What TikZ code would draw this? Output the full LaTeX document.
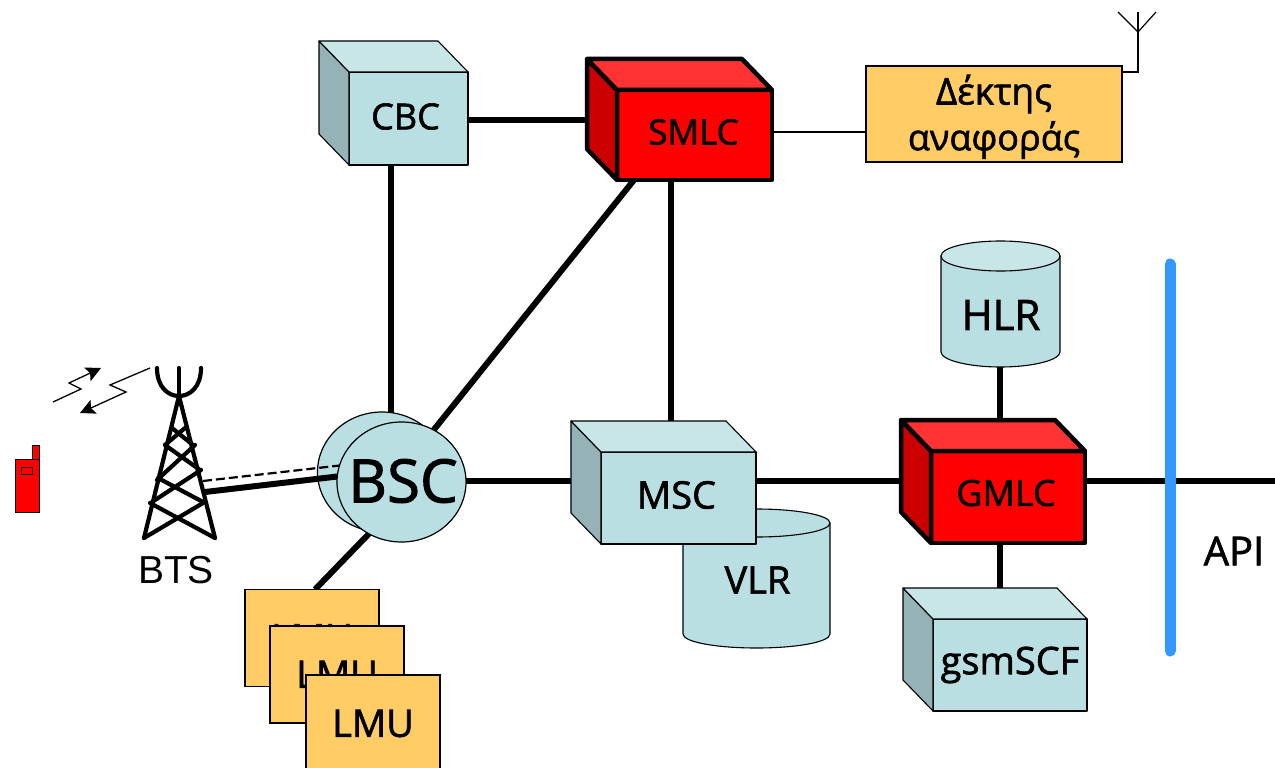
\documentclass[tikz,border=0pt]{standalone}
\usepackage{fontspec}
\setmainfont{Open Sans}[RawFeature={embolden=1.6}]
\newfontfamily\arialfont{Liberation Sans}
\usetikzlibrary{shapes.geometric,arrows.meta}
\pgfdeclarelayer{background}
\pgfsetlayers{background,main}
\definecolor{tealfront}{HTML}{B9DFE3}
\definecolor{tealtop}{HTML}{C8E5E8}
\definecolor{tealside}{HTML}{95B2B6}
\definecolor{redtop}{HTML}{FF3333}
\definecolor{redside}{HTML}{CC0000}
\definecolor{amber}{HTML}{FFCC66}
\definecolor{barblue}{HTML}{3399FF}
\newcommand{\fsz}[1]{\fontsize{#1}{#1}\selectfont}
\newcommand{\shifted}[3]{\raisebox{#2}[\height][\depth]{\makebox[0pt]{\hspace*{#1}#3}}}
\tikzset{
  x=1pt,y=-1pt,
  every node/.style={inner sep=0pt,outer sep=0pt,align=center},
  tealbox/.style={draw=black,line width=1.1pt,fill=tealfront,line join=round},
  redbox/.style={draw=black,line width=4.5pt,fill=red,line join=round},
  amberbox/.style={rectangle,draw=black,line width=1.2pt,fill=amber},
  thicklink/.style={draw=black,line width=6pt},
  thinlink/.style={draw=black,line width=1.8pt},
  towerline/.style={draw=black,line width=4.2pt,line cap=round,line join=round},
  bolt/.style={draw=black,line width=1.3pt,-{Stealth[length=15pt,width=15pt,inset=3pt]}},
}
\newcommand{\cubebox}[9]{%
  \node[#7,rectangle,minimum width=#4,minimum height=#5,font=\fsz{#6}] (#1) at (#2,#3) {#8};
  \begin{scope}[#7]
  \path[#7,fill=#9side] (#1.north west) -- ++(-30,-31) -- ([shift={(-30,-31)}]#1.south west) -- (#1.south west) -- cycle;
  \path[#7,fill=#9top] (#1.north west) -- ++(-30,-31) -- ([shift={(-30,-31)}]#1.north east) -- (#1.north east) -- cycle;
  \end{scope}
}
\begin{document}
\begin{tikzpicture}
\useasboundingbox (0,0) rectangle (1275,768);

\coordinate (rowtop) at (0,120);
\coordinate (rowrecv) at (0,132);
\coordinate (rowmid) at (0,481);
\coordinate (colcbc) at (391,0);
\coordinate (colmsc) at (671,0);
\coordinate (colgmlc) at (1000,0);
\coordinate (lineend) at (1275,481);
\coordinate (barbottom) at (1170,651);
\coordinate (bartop) at (1170,264);

% reference receiver
\node[amberbox,minimum width=256pt,minimum height=96pt] (recv) at (994,114) {};
\node[font=\fsz{37}] (recvtop) at (994,94) {Δέκτης};
\node[font=\fsz{36}] (recvbottom) at (994,140) {αναφοράς};
\coordinate (antfoot) at (1122,72);
\coordinate (antcorner) at (1138,72);
\coordinate (antfork) at (1138,32);
\coordinate (anttop) at (1138,12);
\draw[line width=1.2pt] (antfoot) -- (antcorner) -- (anttop);
\draw[line width=1.2pt] (1118,12) -- (antfork) -- (1156,12);

% cubes
\cubebox{cbc}{408.5}{118.5}{119}{93}{36}{tealbox}{\shifted{-6pt}{2pt}{CBC}}{teal}
\cubebox{smlc}{694.5}{135}{155}{90}{35}{redbox}{\shifted{-2pt}{3pt}{SMLC}}{red}

% VLR cylinder
\path[tealbox] (683,523) -- (683,634) .. controls (683,642) and (716,648) .. (756.5,648) .. controls (797,648) and (830,642) .. (830,634) -- (830,523) -- cycle;
\node[draw=black,line width=1.1pt,fill=tealfront,ellipse,minimum width=147pt,minimum height=28pt] (vlr) at (756.5,523) {};
\node[font=\fsz{38}] (vlrtext) at (757.5,580) {VLR};

\cubebox{msc}{678.5}{498}{155}{92}{38}{tealbox}{\shifted{-4pt}{3pt}{MSC}}{teal}
\cubebox{gmlc}{1008}{497}{154}{92}{36}{redbox}{\shifted{-4pt}{4pt}{GMLC}}{red}
\cubebox{scf}{1010}{665}{154}{92}{38}{tealbox}{\shifted{0pt}{0pt}{gsmSCF}}{teal}

% HLR cylinder
\path[tealbox] (941,256) -- (941,352) .. controls (941,360) and (968,367) .. (1000.5,367) .. controls (1033,367) and (1060,360) .. (1060,352) -- (1060,256) -- cycle;
\node[draw=black,line width=1.1pt,fill=tealtop,ellipse,minimum width=119pt,minimum height=30pt] (hlr) at (1000.5,256) {};
\node[font=\fsz{42}] (hlrtext) at (1001,315) {HLR};

% BSC
\node[ellipse,draw=black,line width=1.2pt,fill=tealfront,minimum width=129pt,minimum height=120pt] (bsc) at (401.5,482) {};
\node[font=\fsz{60}] (bsctext) at (403,481) {BSC};

% LMU stack
\node[amberbox,minimum width=134pt,minimum height=97pt,font=\fsz{38}] (lmua) at (312,638) {LMU};
\node[amberbox,minimum width=134pt,minimum height=97pt,font=\fsz{38}] (lmub) at (337,674.5) {LMU};
\node[amberbox,minimum width=134pt,minimum height=97pt,font=\fsz{38}] (lmuc) at (373,723.5) {LMU};

% API bar
\draw[line width=11pt,barblue,line cap=round] (bartop) -- (barbottom);
\node[font=\fsz{40}] (api) at (1234,551) {API};

% BTS label
\node[font=\arialfont\fsz{39}] (bts) at (176,570) {BTS};

% tower
\draw[towerline] (179,368) -- (179,396);
\draw[towerline] (157,368) .. controls (157,387) and (168,396) .. (179,396) .. controls (190,396) and (201,387) .. (201,368);
\draw[towerline] (144,538) -- (179,396) -- (215,538);
\draw[towerline] (144,538) -- (203,503);
\draw[towerline] (215,538) -- (150,503);
\draw[towerline] (152,502) -- (201,470);
\draw[towerline] (203,502) -- (158,478);
\draw[towerline] (157,480) -- (195,445);
\draw[towerline] (200,470) -- (165,445);
\draw[towerline] (165,445) -- (185,428);
\draw[towerline] (193,445) -- (172,428);

% handset
\path[draw=black,line width=.8pt,fill=red] (32,445) rectangle (39,460);
\path[draw=black,line width=.8pt,fill=red] (15,459) rectangle (39,512);
\path[draw=black,line width=.8pt,fill=red] (21,467) rectangle (32,474);

% radio bolts
\draw[bolt] (53,402) -- (81,389) -- (69,383) -- (101,368);
\draw[bolt] (150,368) -- (110,385) -- (126,392) -- (80,413);

\coordinate (btsthick) at (205,492);
\coordinate (btsdash) at (203,481);

\begin{pgfonlayer}{background}
\draw[thicklink] (rowtop -| cbc.east) -- (rowtop -| smlc.west);
\draw[thinlink] (rowrecv -| smlc.east) -- (rowrecv -| recv.west);
\draw[thicklink] (colcbc |- cbc.south) -- (colcbc |- bsc.center);
\draw[thicklink] (colmsc |- smlc.south) -- (colmsc |- msc.north);
\draw[thicklink] ([xshift=17pt]smlc.south west) -- ([xshift=-9.5pt]bsc.center);
\draw[thicklink] ([xshift=17.5pt]bsc.center) -- ([xshift=3pt]lmua.north);
\draw[thicklink] (rowmid -| bsc.center) -- (rowmid -| msc.center);
\draw[thicklink] (rowmid -| msc.center) -- (rowmid -| gmlc.center);
\draw[thicklink] (rowmid -| gmlc.center) -- (lineend);
\draw[thicklink] (colgmlc |- hlr.center) -- (colgmlc |- gmlc.center);
\draw[thicklink] (colgmlc |- gmlc.center) -- (colgmlc |- scf.center);
\node[ellipse,draw=black,line width=1.2pt,fill=tealfront,minimum width=129pt,minimum height=120pt] (bscback) at (382,472) {};
\draw[draw=black,line width=6pt] (btsthick) -- ([yshift=13pt]bsc.center);
\draw[draw=black,line width=2.2pt,dashed,dash pattern=on 9pt off 4pt] (btsdash) -- ([yshift=23.5pt]bsc.center);
\end{pgfonlayer}
\end{tikzpicture}
\end{document}
